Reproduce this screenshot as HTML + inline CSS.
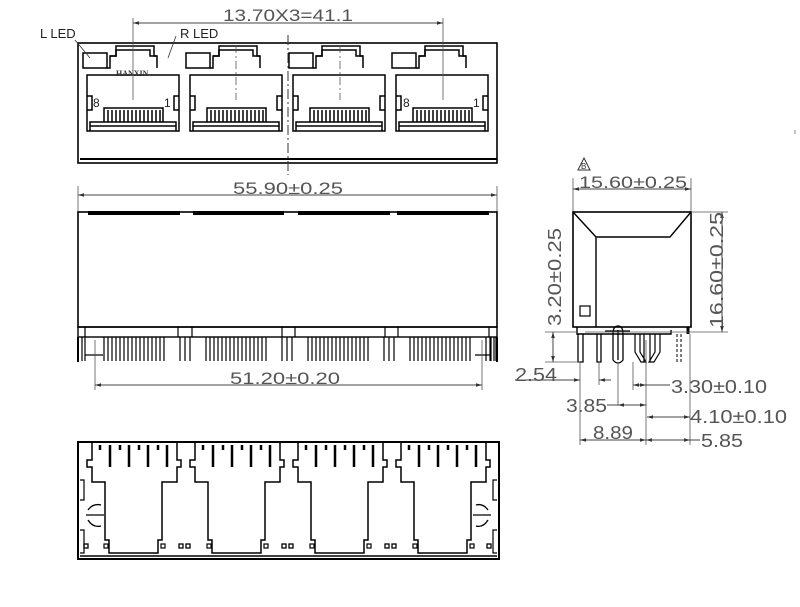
<!DOCTYPE html>
<html><head><meta charset="utf-8"><style>
html,body{margin:0;padding:0;background:#fff;}
svg{display:block;}
text{font-family:"Liberation Sans",sans-serif;fill:#555;font-size:17px;}
</style></head><body>
<svg width="800" height="607" viewBox="0 0 800 607" xmlns="http://www.w3.org/2000/svg">
<defs>
<marker id="a" viewBox="0 0 10 10" refX="10" refY="5" markerWidth="9" markerHeight="6" orient="auto-start-reverse"><path d="M0,2 L10,5 L0,8 z" fill="#333"/></marker>
<g id="port" fill="none" stroke="#000" stroke-width="1.5">
  <rect x="83" y="53" width="24" height="15"/>
  <path d="M107,68 H110 V56 H116 V46 H154 V56 H157 V68"/>
  <path d="M110,56 H116 V50 H150 V56 H157"/>
  <path d="M87,131 V75 H179 V131 Z"/>
  <path d="M87,96 H92 V110 H87 M179,96 H174 V110 H179"/>
  <path d="M90,131 V122 H176 V131 M90,126 H176"/>
  <path d="M104,122 V108 H163 V122 M108,122 V110 M112,122 V110 M116,122 V110 M120,122 V110 M124,122 V110 M128,122 V110 M132,122 V110 M136,122 V110 M140,122 V110 M144,122 V110 M148,122 V110 M152,122 V110 M156,122 V110 M160,122 V110"/>
</g>
<g id="pins" fill="none" stroke="#000" stroke-width="1.2">
  <path d="M104,337 V361 M108,337 V361 M112,337 V361 M116,337 V361 M120,337 V361 M124,337 V361 M128,337 V361 M132,337 V361 M136,337 V361 M140,337 V361 M144,337 V361 M148,337 V361 M152,337 V361 M156,337 V361 M160,337 V361 M164,337 V361"/>
  <path d="M180,337 V361 M185,337 V361 M190,337 V361"/>
</g>
<g id="bport" fill="none" stroke="#000" stroke-width="1.5">
  <path d="M92,443 V460 H87 V467 H92 V482 H105 V540 H109 V553 H158 V540 H162 V482 H177 V467 H181 V460 H177 V443"/>
  <path d="M100,445 V450 M110,445 V467 M120,445 V450 M129,445 V467 M139,445 V450 M148,445 V467 M158,445 V450 M167,445 V467" stroke-width="2.5"/>
  <rect x="104" y="544" width="4" height="4" stroke-width="1.2"/>
  <rect x="161" y="544" width="4" height="4" stroke-width="1.2"/>
</g>
</defs>

<!-- FRONT VIEW -->
<rect x="78" y="43" width="419" height="120" fill="none" stroke="#000" stroke-width="1.6"/>
<path d="M80,159 H497" stroke="#000" stroke-width="2"/>
<use href="#port"/>
<use href="#port" x="103"/>
<use href="#port" x="206"/>
<use href="#port" x="309"/>
<text x="116" y="76" style="font-size:8px;fill:#333;font-family:'Liberation Serif',serif;font-weight:bold">HANXIN</text>
<text x="93" y="107" style="font-size:12px;fill:#222">8</text>
<text x="164" y="107" style="font-size:12px;fill:#222">1</text>
<text x="403" y="107" style="font-size:12px;fill:#222">8</text>
<text x="473" y="107" style="font-size:12px;fill:#222">1</text>
<path d="M288,35 V175" stroke="#333" stroke-width="1" stroke-dasharray="10,3,2,3"/>
<path d="M133,18 V100 M443,18 V100" stroke="#555" stroke-width="0.8"/>
<path d="M236,45 V100 M340,45 V100" stroke="#555" stroke-width="0.8" stroke-dasharray="8,3,2,3"/>
<path d="M133,23 H443" stroke="#444" stroke-width="1" marker-start="url(#a)" marker-end="url(#a)"/>
<text x="223" y="21" textLength="130" lengthAdjust="spacingAndGlyphs" style="font-size:17px">13.70X3=41.1</text>
<text x="40" y="38" style="font-size:13px;fill:#222">L LED</text>
<text x="180" y="38" style="font-size:13px;fill:#222">R LED</text>
<path d="M75,40 L90,58" stroke="#333" stroke-width="0.8"/>
<path d="M176,36 L168,58" stroke="#333" stroke-width="0.8"/>

<!-- SIDE VIEW -->
<path d="M78,186 V212 M497,186 V212" stroke="#555" stroke-width="0.8"/>
<path d="M78,195 H497" stroke="#444" stroke-width="1" marker-start="url(#a)" marker-end="url(#a)"/>
<text x="233" y="194" textLength="110" lengthAdjust="spacingAndGlyphs" style="font-size:17px">55.90±0.25</text>
<rect x="78" y="212" width="419" height="115" fill="none" stroke="#000" stroke-width="1.6"/>
<path d="M88,213 H180 M193,213 H284 M298,213 H390 M397,213 H489" stroke="#000" stroke-width="4"/>
<rect x="78" y="327" width="419" height="10" fill="none" stroke="#000" stroke-width="1.4"/>
<path d="M85,327 V337 M178,327 V337 M192,327 V337 M282,327 V337 M295,327 V337 M385,327 V337 M398,327 V337 M489,327 V337" stroke="#000" stroke-width="1.2"/>
<path d="M78,337 V362 M497,337 V362" stroke="#000" stroke-width="2"/>
<path d="M82,337 V361 M85,337 V361 M85,355 H103" stroke="#000" stroke-width="1.2" fill="none"/>
<path d="M490,337 V361 M494,337 V361 M475,355 H490" stroke="#000" stroke-width="1.2" fill="none"/>
<use href="#pins"/>
<use href="#pins" x="102"/>
<use href="#pins" x="204"/>
<use href="#pins" x="306" />
<path d="M95,340 V390 M482,340 V390" stroke="#555" stroke-width="0.8"/>
<path d="M95,385 H482" stroke="#444" stroke-width="1" marker-start="url(#a)" marker-end="url(#a)"/>
<text x="230" y="384" textLength="110" lengthAdjust="spacingAndGlyphs" style="font-size:17px">51.20±0.20</text>

<!-- RIGHT VIEW -->
<path d="M573,178 V212 M691,178 V212" stroke="#555" stroke-width="0.8"/>
<path d="M573,189 H691" stroke="#444" stroke-width="1" marker-start="url(#a)" marker-end="url(#a)"/>
<text x="579" y="188" textLength="108" lengthAdjust="spacingAndGlyphs" style="font-size:17px">15.60±0.25</text>
<path d="M584,158 L578,170 H590 Z" fill="none" stroke="#333" stroke-width="1"/>
<text x="581" y="169" style="font-size:8px;fill:#333">B</text>
<rect x="573" y="212" width="118" height="115" fill="none" stroke="#000" stroke-width="1.6"/>
<path d="M573,212 L596,237 H670 L691,212 M596,237 V327" fill="none" stroke="#000" stroke-width="1.4"/>
<rect x="580" y="306" width="10" height="10" fill="none" stroke="#000" stroke-width="1.2"/>
<path d="M577,327 V334 H671 V330" fill="none" stroke="#000" stroke-width="1.4"/>
<path d="M688,327 V334" stroke="#000" stroke-width="3"/>
<path d="M578,334 V362 H583 V334 M597,334 V362 H601 V334" fill="none" stroke="#000" stroke-width="1.3"/>
<path d="M605,331 H630 M613,334 V360 Q618,366 623,360 V334 M613,334 Q613,326 618,326 Q623,326 623,334 M618,330 V360" fill="none" stroke="#000" stroke-width="1.3"/>
<path d="M635,334 V352 L641,362 H646 L640,352 V334 M655,334 V352 L649,362 H654 L660,352 V334 M644,334 V362 M650,334 V362" fill="none" stroke="#000" stroke-width="1.2"/>
<path d="M677,334 V362 M681,334 V362" stroke="#000" stroke-width="1" stroke-dasharray="3,2"/>
<path d="M691,212 H728 M585,332 H728" stroke="#555" stroke-width="0.8"/>
<path d="M722,212 V332" stroke="#444" stroke-width="1" marker-start="url(#a)" marker-end="url(#a)"/>
<text transform="translate(723,328) rotate(-90)" textLength="116" lengthAdjust="spacingAndGlyphs" style="font-size:18px">16.60±0.25</text>
<path d="M545,332 H577 M545,362 H580" stroke="#555" stroke-width="0.8"/>
<path d="M553,332 V362" stroke="#444" stroke-width="1" marker-start="url(#a)" marker-end="url(#a)"/>
<text transform="translate(561,326) rotate(-90)" textLength="98" lengthAdjust="spacingAndGlyphs" style="font-size:18px">3.20±0.25</text>
<path d="M580,362 V445 M599,362 V385 M618,362 V405 M633,362 V390 M646,340 V445 M690,334 V445" stroke="#555" stroke-width="0.8"/>
<path d="M515,380 H580 M599,380 H610" stroke="#444" stroke-width="1"/>
<path d="M568,380 H580" stroke="#444" stroke-width="1" marker-end="url(#a)"/>
<path d="M611,380 H599" stroke="#444" stroke-width="1" marker-end="url(#a)"/>
<text x="515" y="381" textLength="42" lengthAdjust="spacingAndGlyphs" style="font-size:18px">2.54</text>
<path d="M633,385 H646" stroke="#444" stroke-width="1" marker-start="url(#a)" marker-end="url(#a)"/>
<path d="M646,385 H670" stroke="#444" stroke-width="1"/>
<text x="671" y="393" textLength="96" lengthAdjust="spacingAndGlyphs" style="font-size:18px">3.30±0.10</text>
<path d="M607,405 H646" stroke="#444" stroke-width="1"/>
<path d="M618,405 H646" stroke="#444" stroke-width="1" marker-start="url(#a)" marker-end="url(#a)"/>
<text x="566" y="412" textLength="41" lengthAdjust="spacingAndGlyphs" style="font-size:18px">3.85</text>
<path d="M647,417 H690" stroke="#444" stroke-width="1" marker-start="url(#a)" marker-end="url(#a)"/>
<text x="690" y="423" textLength="97" lengthAdjust="spacingAndGlyphs" style="font-size:18px">4.10±0.10</text>
<path d="M580,440 H646" stroke="#444" stroke-width="1" marker-start="url(#a)" marker-end="url(#a)"/>
<text x="593" y="439" textLength="40" lengthAdjust="spacingAndGlyphs" style="font-size:18px">8.89</text>
<path d="M646,440 H690" stroke="#444" stroke-width="1" marker-start="url(#a)" marker-end="url(#a)"/>
<path d="M690,440 H700" stroke="#444" stroke-width="1"/>
<text x="701" y="447" textLength="42" lengthAdjust="spacingAndGlyphs" style="font-size:18px">5.85</text>
<path d="M795,130 V134" stroke="#888" stroke-width="1"/>

<!-- BOTTOM VIEW -->
<rect x="78" y="442" width="421" height="117" fill="none" stroke="#000" stroke-width="2"/>
<path d="M80,556 H497" stroke="#000" stroke-width="1.5"/>
<use href="#bport"/>
<use href="#bport" x="103"/>
<use href="#bport" x="206"/>
<use href="#bport" x="309"/>
<path d="M80,480 H84 V500 H80 M80,530 H84 V553 H80 M497,480 H493 V500 H497 M497,530 H493 V553 H497" fill="none" stroke="#000" stroke-width="1.2"/>
<g fill="none" stroke="#000" stroke-width="1.3">
<path d="M88,510 Q93,503 101,505 M88,520 Q93,528 101,526 M86,515 H104"/>
<path d="M488,510 Q483,503 476,505 M488,520 Q483,528 476,526 M473,515 H491"/>
<rect x="84" y="544" width="4" height="4"/>
<rect x="487" y="544" width="4" height="4"/>
<rect x="179" y="544" width="4" height="4"/><rect x="186" y="544" width="4" height="4"/>
<rect x="282" y="544" width="4" height="4"/><rect x="289" y="544" width="4" height="4"/>
<rect x="385" y="544" width="4" height="4"/><rect x="392" y="544" width="4" height="4"/>
</g>
</svg>
</body></html>
